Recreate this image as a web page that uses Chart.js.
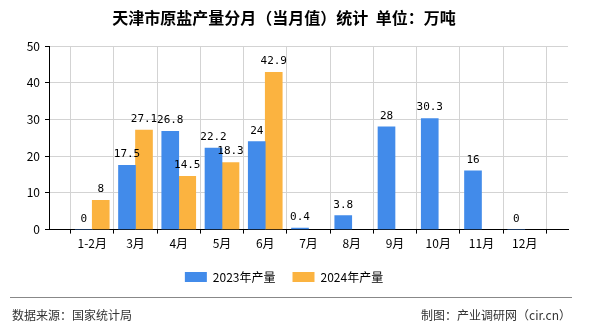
<!DOCTYPE html>
<html>
<head>
<meta charset="utf-8">
<script src="https://cdn.jsdelivr.net/npm/chart.js@4/dist/chart.umd.min.js"></script>
<style>
  body { margin: 0; background: #fff; }
  #wrap { position: relative; width: 590px; height: 330px; }
  #myChart { position: absolute; left: 0; top: 0; }
  .linha { position: absolute; left: 10px; top: 297px; width: 562px; height: 1px; background: #888; }
  .rodape { position: absolute; top: 306px; font: 12px "Noto Sans CJK SC", sans-serif; color: #333; line-height: 18px; }
</style>
</head>
<body>
<div id="wrap">
  <canvas id="myChart" width="590" height="330"></canvas>
  <div class="linha"></div>
  <div class="rodape" style="left:12px">数据来源：国家统计局</div>
  <div class="rodape" style="right:19px">制图：产业调研网（cir.cn）</div>
</div>
<script>
const meses = ['1-2月', '3月', '4月', '5月', '6月', '7月', '8月', '9月', '10月', '11月', '12月'];
const producao2023 = [0, 17.5, 26.8, 22.2, 24, 0.4, 3.8, 28, 30.3, 16, 0];
const producao2024 = [8, 27.1, 14.5, 18.3, 42.9, null, null, null, null, null, null];
const ticksY = [0, 10, 20, 30, 40, 50];

// slots vazios nas pontas, o eixo vai de borda a borda
const labels = [''].concat(meses, ['']);
const pad = arr => [null].concat(arr, [null]);

// rótulos de valor em cima das barras
const rotulos = {
  id: 'rotulos',
  afterDatasetsDraw(chart) {
    const c = chart.ctx;
    c.save();
    c.font = '11px "DejaVu Sans Mono", monospace';
    c.fillStyle = '#000';
    c.textAlign = 'center';
    c.textBaseline = 'alphabetic';
    chart.data.datasets.forEach((ds, i) => {
      chart.getDatasetMeta(i).data.forEach((bar, j) => {
        const v = ds.data[j];
        if (v === null || v === undefined) return;
        c.fillText(String(v), bar.x, bar.y - 8);
      });
    });
    c.restore();
  }
};

Chart.defaults.font.family = '"Noto Sans CJK SC", sans-serif';
Chart.defaults.font.size = 12;
Chart.defaults.color = '#000';

const ctx = document.getElementById('myChart').getContext('2d');
new Chart(ctx, {
  type: 'bar',
  data: {
    labels: labels,
    datasets: [
      { label: '2023年产量', data: pad(producao2023), backgroundColor: '#428bea', barThickness: 17 },
      { label: '2024年产量', data: pad(producao2024), backgroundColor: '#fbb340', barThickness: 17 }
    ]
  },
  options: {
    responsive: false,
    animation: false,
    layout: { padding: { left: 0, right: 22, top: 0, bottom: 37 } },
    scales: {
      x: {
        offset: false,
        grid: { color: '#d3d3d3', tickColor: '#000', tickLength: 4 },
        border: { color: '#000' },
        ticks: { autoSkip: false, maxRotation: 0, padding: 3 }
      },
      y: {
        min: 0,
        max: 50,
        afterBuildTicks: axis => { axis.ticks = ticksY.map(v => ({ value: v })); },
        afterFit: axis => { axis.width = 49; },
        grid: { color: '#d3d3d3', tickColor: '#000', tickLength: 4 },
        border: { color: '#000' },
        ticks: { padding: 5 }
      }
    },
    plugins: {
      title: {
        display: true,
        text: '天津市原盐产量分月（当月值）统计  单位：万吨',
        font: { size: 16, weight: 'bold' },
        color: '#000',
        padding: { top: 8, bottom: 19 }
      },
      legend: {
        position: 'bottom',
        labels: { boxWidth: 22, boxHeight: 10, padding: 17, font: { size: 12 } }
      },
      tooltip: { enabled: false }
    }
  },
  plugins: [rotulos]
});
</script>
</body>
</html>
